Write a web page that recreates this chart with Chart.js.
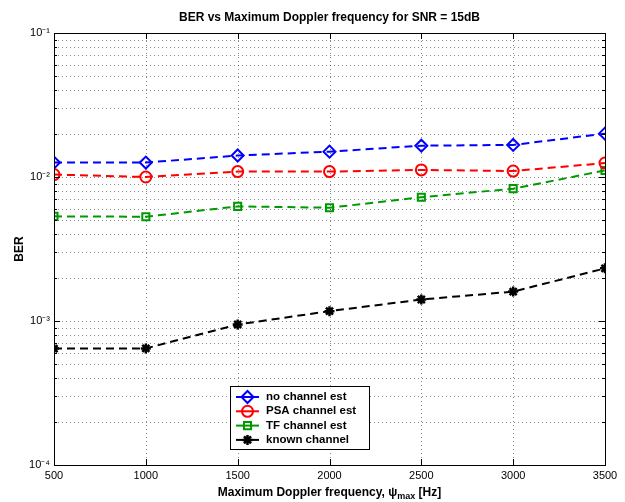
<!DOCTYPE html>
<html>
<head>
<meta charset="utf-8">
<script src="https://cdn.jsdelivr.net/npm/chart.js@4/dist/chart.umd.min.js"></script>
<style>
  html, body { margin: 0; padding: 0; background: #fff; }
</style>
</head>
<body>
<canvas id="berChart" width="625" height="502"></canvas>
<script>
// data
const dopplerHz = [500, 1000, 1500, 2000, 2500, 3000, 3500];
const berNoEst = [0.0126, 0.0126, 0.0141, 0.0150, 0.0165, 0.0167, 0.0200];
const berPsa = [0.0104, 0.0100, 0.0109, 0.0109, 0.0112, 0.0110, 0.0125];
const berTf = [0.00533, 0.00530, 0.00625, 0.00612, 0.00723, 0.00830, 0.0111];
const berKnown = [0.000643, 0.000645, 0.000946, 0.00117, 0.00141, 0.00160, 0.00232];
const seriesNames = ['no channel est', 'PSA channel est', 'TF channel est', 'known channel'];

const xTickValues = [500, 1000, 1500, 2000, 2500, 3000, 3500];
const yDecades = [1e-4, 1e-3, 1e-2, 1e-1];
const yTickLabels = ['10\u207B\u2074', '10\u207B\u00B3', '10\u207B\u00B2', '10\u207B\u00B9'];

const FONT = '"Liberation Sans", Arial, Helvetica, sans-serif';

// log ticks: 1..9 per decade, labels only on the decades
const yTicks = [];
yDecades.forEach((d, i) => {
    if (i === yDecades.length - 1) { yTicks.push(d); return; }
    for (let m = 1; m <= 9; m++) yTicks.push(+(m * d).toPrecision(3));
});

function pts(values) {
    return dopplerHz.map((x, i) => ({ x: x, y: values[i] }));
}

function series(label, values, color, style, radius, width) {
    return {
        label: label,
        data: pts(values),
        borderColor: color,
        backgroundColor: 'transparent',
        borderWidth: 2,
        borderDash: [8, 5],
        pointStyle: style,
        pointRadius: radius,
        pointBorderColor: color,
        pointBackgroundColor: 'transparent',
        pointBorderWidth: width,
        tension: 0
    };
}

const matlabFrame = {
    id: 'matlabFrame',
    beforeDatasetsDraw(chart) {
        // dotted grid
        const ctx = chart.ctx;
        const a = chart.chartArea;
        const xs = chart.scales.x, ys = chart.scales.y;
        ctx.save();
        ctx.strokeStyle = 'rgba(0,0,0,0.45)';
        ctx.lineWidth = 1;
        ctx.setLineDash([1, 3]);
        ctx.beginPath();
        xTickValues.slice(1, -1).forEach(v => {
            const px = Math.round(xs.getPixelForValue(v)) + 0.5;
            ctx.moveTo(px, a.top); ctx.lineTo(px, a.bottom);
        });
        yTicks.slice(1, -1).forEach(v => {
            const py = Math.round(ys.getPixelForValue(v)) + 0.5;
            ctx.moveTo(a.left, py); ctx.lineTo(a.right, py);
        });
        ctx.stroke();
        ctx.restore();
    },
    afterDraw(chart) {
        const ctx = chart.ctx;
        const a = chart.chartArea;
        const xs = chart.scales.x, ys = chart.scales.y;
        ctx.save();
        // box
        ctx.strokeStyle = '#000';
        ctx.lineWidth = 1;
        ctx.strokeRect(Math.round(a.left) + 0.5, Math.round(a.top) + 0.5,
            Math.round(a.right - a.left), Math.round(a.bottom - a.top));
        // inward ticks
        ctx.beginPath();
        xTickValues.forEach(v => {
            const px = Math.round(xs.getPixelForValue(v)) + 0.5;
            ctx.moveTo(px, a.bottom); ctx.lineTo(px, a.bottom - 6);
            ctx.moveTo(px, a.top); ctx.lineTo(px, a.top + 6);
        });
        yTicks.forEach(v => {
            const py = Math.round(ys.getPixelForValue(v)) + 0.5;
            const len = yDecades.includes(v) ? 6 : 3;
            ctx.moveTo(a.left, py); ctx.lineTo(a.left + len, py);
            ctx.moveTo(a.right, py); ctx.lineTo(a.right - len, py);
        });
        ctx.stroke();

        // title
        const cx = (a.left + a.right) / 2;
        ctx.fillStyle = '#000';
        ctx.textAlign = 'center';
        ctx.textBaseline = 'middle';
        ctx.font = 'bold 12px ' + FONT;
        ctx.fillText('BER vs Maximum Doppler frequency for SNR = 15dB', cx, 18);

        // x axis title with subscript
        const main = 'Maximum Doppler frequency, \u03C8';
        const sub = 'max';
        const tail = ' [Hz]';
        ctx.font = 'bold 12px ' + FONT;
        const w1 = ctx.measureText(main).width;
        const w3 = ctx.measureText(tail).width;
        ctx.font = 'bold 9px ' + FONT;
        const w2 = ctx.measureText(sub).width;
        let x0 = cx - (w1 + w2 + w3) / 2;
        ctx.textAlign = 'left';
        ctx.font = 'bold 12px ' + FONT;
        ctx.fillText(main, x0, 493);
        ctx.font = 'bold 9px ' + FONT;
        ctx.fillText(sub, x0 + w1, 497);
        ctx.font = 'bold 12px ' + FONT;
        ctx.fillText(tail, x0 + w1 + w2, 493);

        // legend box
        const lx = 230, ly = 386, lw = 139, lh = 63;
        ctx.fillStyle = '#fff';
        ctx.fillRect(lx, ly, lw, lh);
        ctx.strokeStyle = '#000';
        ctx.strokeRect(lx + 0.5, ly + 0.5, lw, lh);
        chart.data.datasets.forEach((ds, i) => {
            const ry = 397 + i * 14.3;
            ctx.strokeStyle = ds.borderColor;
            ctx.lineWidth = 2;
            ctx.setLineDash([]);
            ctx.beginPath();
            ctx.moveTo(236, ry); ctx.lineTo(259, ry);
            ctx.stroke();
            ctx.fillStyle = 'transparent';
            ctx.lineWidth = ds.pointBorderWidth;
            Chart.helpers.drawPoint(ctx, {
                pointStyle: ds.pointStyle, radius: ds.pointRadius,
                rotation: 0, borderWidth: ds.pointBorderWidth
            }, 247.5, ry);
            ctx.fillStyle = '#000';
            ctx.font = 'bold 11.5px ' + FONT;
            ctx.textAlign = 'left';
            ctx.textBaseline = 'middle';
            ctx.fillText(ds.label, 266, ry);
        });
        ctx.restore();
    }
};

const ctx = document.getElementById('berChart').getContext('2d');
new Chart(ctx, {
    type: 'line',
    data: {
        datasets: [
            series(seriesNames[0], berNoEst, '#0000ff', 'rectRot', 6, 2),
            series(seriesNames[1], berPsa, '#ff0000', 'circle', 5.5, 2),
            series(seriesNames[2], berTf, '#009900', 'rect', 5, 2),
            series(seriesNames[3], berKnown, '#000000', 'star', 5, 2.5)
        ]
    },
    options: {
        responsive: false,
        animation: false,
        layout: { padding: { top: 33, right: 20, left: 0, bottom: 0 } },
        plugins: {
            legend: { display: false },
            title: { display: false },
            tooltip: { enabled: false }
        },
        scales: {
            x: {
                type: 'linear',
                min: 500,
                max: 3500,
                afterBuildTicks(scale) {
                    scale.ticks = xTickValues.map(v => ({ value: v }));
                },
                afterFit(scale) { scale.height = 37; },
                ticks: {
                    color: '#000',
                    font: { family: FONT, size: 11 },
                    padding: 4,
                    maxRotation: 0,
                    autoSkip: false,
                    callback(value) { return String(value); }
                },
                grid: { display: false, drawTicks: false },
                border: { display: false }
            },
            y: {
                type: 'logarithmic',
                min: 1e-4,
                max: 1e-1,
                afterBuildTicks(scale) {
                    scale.ticks = yTicks.map(v => ({ value: v }));
                },
                afterFit(scale) { scale.width = 54; },
                ticks: {
                    color: '#000',
                    font: { family: FONT, size: 11 },
                    padding: 4,
                    autoSkip: false,
                    callback(value) {
                        const i = yDecades.findIndex(d => Math.abs(d - value) < d * 1e-6);
                        return i >= 0 ? yTickLabels[i] : '';
                    }
                },
                title: {
                    display: true,
                    text: 'BER',
                    color: '#000',
                    font: { family: FONT, size: 12, weight: 'bold' },
                    padding: { top: 12, bottom: 0 }
                },
                grid: { display: false, drawTicks: false },
                border: { display: false }
            }
        }
    },
    plugins: [matlabFrame]
});
</script>
</body>
</html>
